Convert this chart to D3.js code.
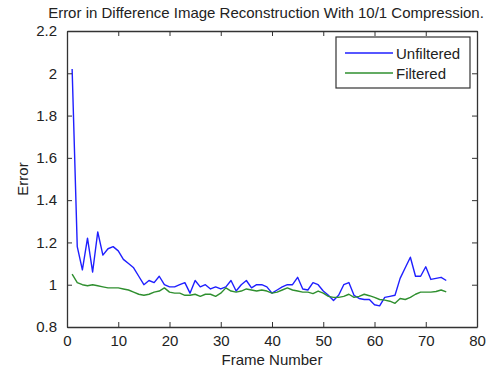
<!DOCTYPE html>
<html><head><meta charset="utf-8">
<script src="https://cdn.jsdelivr.net/npm/d3@7"></script>
<style>
html,body{margin:0;padding:0;background:#fff;}
svg{display:block;font-family:"Liberation Sans",Arial,sans-serif;}
</style></head>
<body>
<svg id="c" width="497" height="374"></svg>
<script>
const frames = d3.range(1, 75);
const unfiltered = [2.02,1.18,1.07,1.22,1.06,1.25,1.14,1.17,1.18,1.16,
1.12,1.10,1.08,1.04,1.00,1.02,1.01,1.04,1.00,0.99,
0.99,1.00,1.01,0.96,1.02,0.99,1.00,0.98,0.99,0.98,
0.99,1.02,0.97,1.00,1.02,0.985,1.00,1.00,0.99,0.96,
0.975,0.99,1.00,1.00,1.035,0.98,0.975,1.01,1.00,0.97,
0.95,0.925,0.95,1.00,1.01,0.95,0.935,0.93,0.93,0.905,
0.90,0.94,0.945,0.95,1.03,1.08,1.13,1.04,1.04,1.085,
1.025,1.03,1.035,1.02];
const filtered = [1.05,1.01,1.00,0.995,1.00,0.995,0.99,0.985,0.985,0.985,
0.98,0.975,0.965,0.955,0.95,0.955,0.965,0.97,0.985,0.965,
0.96,0.96,0.95,0.95,0.955,0.945,0.955,0.955,0.945,0.96,
0.985,0.97,0.965,0.97,0.98,0.975,0.97,0.975,0.97,0.96,
0.965,0.975,0.985,0.975,0.97,0.965,0.965,0.958,0.97,0.96,
0.945,0.94,0.94,0.945,0.955,0.94,0.945,0.955,0.948,0.94,
0.93,0.927,0.922,0.912,0.935,0.93,0.94,0.955,0.965,0.965,
0.965,0.968,0.975,0.966];
const xTicks = [0,10,20,30,40,50,60,70,80];
const yTicks = [0.8,1,1.2,1.4,1.6,1.8,2,2.2];
const seriesNames = ["Unfiltered","Filtered"];
const seriesColors = ["#1f1fff","#2f8f2f"];
const title = "Error in Difference Image Reconstruction With 10/1 Compression.";

const svg = d3.select("#c");
const L=67, R=477, T=31, B=327;
const x = d3.scaleLinear().domain([0,80]).range([L,R]);
const y = d3.scaleLinear().domain([0.8,2.2]).range([B,T]);
const axCol = "#333";

svg.append("rect").attr("x",L).attr("y",T).attr("width",R-L).attr("height",B-T)
  .attr("fill","#fff");

// lines
const line = d3.line().x((d,i)=>x(frames[i])).y(d=>y(d));
[unfiltered, filtered].forEach((s,k)=>{
  svg.append("path").datum(s).attr("d",line).attr("fill","none")
    .attr("stroke",seriesColors[k]).attr("stroke-width",1.4).attr("stroke-linejoin","round");
});

// axes (MATLAB-style box with inward ticks)
const tl = 5;
const gB = svg.append("g").attr("transform",`translate(0,${B})`)
  .call(d3.axisBottom(x).tickValues(xTicks).tickSizeInner(-tl).tickSizeOuter(0).tickPadding(8).tickFormat(d3.format("d")));
const gT = svg.append("g").attr("transform",`translate(0,${T})`)
  .call(d3.axisTop(x).tickValues(xTicks).tickSizeInner(-tl).tickSizeOuter(0).tickFormat(""));
const gL = svg.append("g").attr("transform",`translate(${L},0)`)
  .call(d3.axisLeft(y).tickValues(yTicks).tickSizeInner(-tl).tickSizeOuter(0).tickPadding(10).tickFormat(d=>String(+d.toFixed(1))));
const gR = svg.append("g").attr("transform",`translate(${R},0)`)
  .call(d3.axisRight(y).tickValues(yTicks).tickSizeInner(-tl).tickSizeOuter(0).tickFormat(""));
[gB,gT,gL,gR].forEach(g=>{
  g.selectAll("path.domain").attr("stroke",axCol).attr("stroke-width",1.3);
  g.selectAll(".tick line").attr("stroke",axCol).attr("stroke-width",1);
  g.selectAll(".tick text").attr("fill","#222").attr("font-size",15)
    .attr("font-family","'Liberation Sans',Arial,sans-serif");
});
gB.selectAll(".tick text").attr("dy","0.71em");

// labels
svg.append("text").attr("x",266).attr("y",18).attr("text-anchor","middle")
  .attr("font-size",15).attr("fill","#222").text(title);
svg.append("text").attr("x",272).attr("y",365).attr("text-anchor","middle")
  .attr("font-size",15).attr("fill","#222").text("Frame Number");
svg.append("text").attr("transform","translate(28,179) rotate(-90)").attr("text-anchor","middle")
  .attr("font-size",15).attr("fill","#222").text("Error");

// legend
const lg = svg.append("g");
lg.append("rect").attr("x",336).attr("y",37).attr("width",134).attr("height",51)
  .attr("fill","#fff").attr("stroke",axCol).attr("stroke-width",1.2);
seriesNames.forEach((n,i)=>{
  const yy = 53 + i*20;
  lg.append("line").attr("x1",345).attr("x2",393).attr("y1",yy).attr("y2",yy)
    .attr("stroke",seriesColors[i]).attr("stroke-width",1.4);
  lg.append("text").attr("x",396).attr("y",yy+5.5).attr("font-size",15).attr("fill","#222").text(n);
});
</script>
</body></html>
